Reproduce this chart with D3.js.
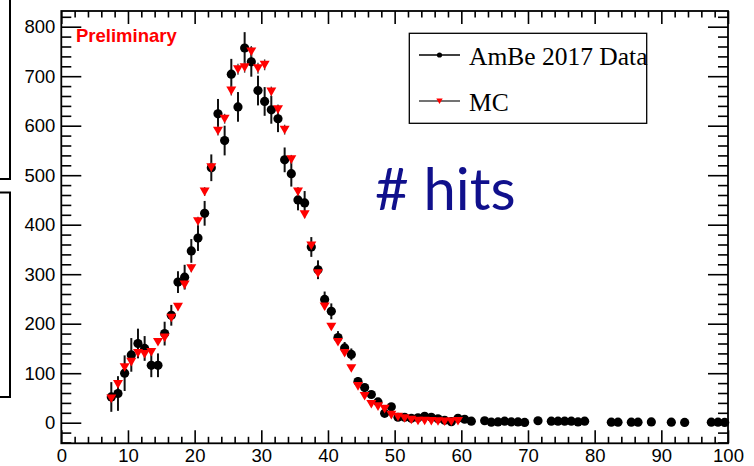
<!DOCTYPE html>
<html>
<head>
<meta charset="utf-8">
<script src="https://cdn.jsdelivr.net/npm/d3@7"></script>
<style>
  html, body { margin: 0; padding: 0; background: #fff; }
  svg { display: block; }
</style>
</head>
<body>
<svg id="chart" width="754" height="466"></svg>
<script>
// Bin centres and contents: AmBe 2017 data
const dataBins = [
  7.5, 8.5, 9.5, 10.5, 11.5, 12.5, 13.5, 14.5, 15.5, 16.5,
  17.5, 18.5, 19.5, 20.5, 21.5, 22.5, 23.5, 24.5, 25.5, 26.5,
  27.5, 28.5, 29.5, 30.5, 31.5, 32.5, 33.5, 34.5, 35.5, 36.5,
  37.5, 38.5, 39.5, 40.5, 41.5, 42.5, 43.5, 44.5, 45.5, 46.5,
  47.5, 48.5, 49.5, 50.5, 51.5, 52.5, 53.5, 54.5, 55.5, 56.5,
  57.5, 58.5, 59.5, 60.5, 61.5,
  63.5, 64.5, 65.5, 66.5, 67.5, 68.5, 69.5, 71.5,
  73.5, 74.5, 75.5, 76.5, 77.5, 78.5, 82.5, 83.5, 85.5, 86.5,
  88.5, 91.5, 93.5, 97.5, 98.5, 99.5
];
const dataValues = [
  52, 59, 100, 137, 160, 150, 116, 116, 180, 217,
  284, 294, 347, 373, 423, 515, 624, 570, 704, 638,
  757, 729, 671, 649, 632, 614, 531, 503, 450, 444,
  355, 309, 249, 225, 172, 151, 138, 83, 71, 57,
  42, 19, 32, 11, 11, 9, 10, 13, 11, 8,
  5, 2, 9, 7, 3,
  4, 1, 1.5, 3, 1.5, 1.5, 0.5, 4,
  3, 3, 3, 3, 1.5, 3, 1, 1, 1, 1,
  1.5, 1, 0.5, 1, 1, 0.5
];
const dataErrors = [
  30, 35, 36, 34, 30, 25, 24, 24, 24, 21,
  22, 25, 24, 26, 25, 27, 30, 30, 31, 30,
  32, 30, 30, 29, 28, 27, 25, 26, 21, 24,
  20, 19, 16, 16, 13, 12, 12, 9, 7, 6,
  5, 4, 5, 3, 3, 3, 3, 3, 3, 3,
  2, 1, 3, 2, 2,
  2, 1, 1, 2, 1, 1, 1, 2,
  2, 2, 2, 2, 1, 2, 1, 1, 1, 1,
  1, 1, 1, 1, 1, 1
];

// Simulation (MC)
const mcBins = [
  7.5, 8.5, 9.5, 10.5, 11.5, 12.5, 13.5, 14.5, 15.5, 16.5,
  17.5, 18.5, 19.5, 20.5, 21.5, 22.5, 23.5, 24.5, 25.5, 26.5,
  27.5, 28.5, 29.5, 30.5, 31.5, 32.5, 33.5, 34.5, 35.5, 36.5,
  37.5, 38.5, 39.5, 40.5, 41.5, 42.5, 43.5, 44.5, 45.5, 46.5,
  47.5, 48.5, 49.5, 50.5, 51.5, 52.5, 53.5, 54.5, 55.5, 56.5,
  57.5, 58.5, 59.5
];
const mcValues = [
  49, 78, 112, 123, 141, 139, 143, 163, 172, 212,
  234, 279, 312, 407, 467, 516, 590, 614, 671, 714,
  718, 750, 716, 723, 669, 633, 592, 532, 467, 421,
  358, 302, 235, 194, 163, 141, 110, 74, 54, 38,
  33, 28, 16, 12, 9, 6, 4, 4, 3.5, 3,
  2.5, 2.5, 3.5
];
const mcErrors = [
  4, 5, 5, 6, 6, 6, 6, 6, 6, 7,
  7, 8, 8, 9, 9, 10, 10, 10, 10, 11,
  11, 11, 11, 11, 10, 10, 10, 9, 9, 8,
  8, 7, 7, 6, 6, 6, 5, 4, 4, 3,
  3, 3, 2, 2, 2, 2, 1, 1, 1, 1,
  1, 1, 1
];

// Axis ticks
const xMajorTicks = [0, 10, 20, 30, 40, 50, 60, 70, 80, 90, 100];
const yMajorTicks = [0, 100, 200, 300, 400, 500, 600, 700, 800];
const xDomain = [0, 100];
const yDomain = [-41.6, 831.7];

const legendLabels = ["AmBe 2017 Data", "MC"];

// ---- layout ----
const frame = { left: 61.3, right: 728, top: 11, bottom: 443.3 };
const svg = d3.select("#chart");

const x = d3.scaleLinear().domain(xDomain).range([frame.left, frame.right]);
const y = d3.scaleLinear().domain(yDomain).range([frame.bottom, frame.top]);

const xMinorTicks = d3.range(xDomain[0], xDomain[1] + 0.001, 2).filter(v => v % 10 !== 0);
const yMinorTicks = d3.range(-40, 831, 20).filter(v => v % 100 !== 0);

// Pieces of the neighbouring panel on the left margin
const sideBoxes = svg.append("g").attr("fill", "none").attr("stroke", "#000").attr("stroke-width", 2);
sideBoxes.append("rect").attr("x", -20).attr("y", -20).attr("width", 30).attr("height", 199);
sideBoxes.append("rect").attr("x", -20).attr("y", 192.5).attr("width", 30).attr("height", 204.5);

const tickFont = "'Liberation Sans', Arial, Helvetica, sans-serif";
const XT = 13, YT = 20; // tick lengths

function styleAxis(g) {
  g.select(".domain").remove();
  g.selectAll(".tick line").attr("stroke", "#000").attr("stroke-width", 1.6);
  g.selectAll("text").attr("fill", "#000").attr("font-family", tickFont).attr("font-size", 18.5);
}

// bottom
svg.append("g").attr("transform", `translate(0,${frame.bottom})`)
  .call(d3.axisBottom(x).tickValues(xMajorTicks).tickSize(-XT).tickPadding(5.5).tickFormat(d3.format("d")))
  .call(styleAxis);
svg.append("g").attr("transform", `translate(0,${frame.bottom})`)
  .call(d3.axisBottom(x).tickValues(xMinorTicks).tickSize(-XT / 2).tickFormat(""))
  .call(styleAxis);
// top
svg.append("g").attr("transform", `translate(0,${frame.top})`)
  .call(d3.axisTop(x).tickValues(xMajorTicks).tickSize(-XT).tickFormat(""))
  .call(styleAxis);
svg.append("g").attr("transform", `translate(0,${frame.top})`)
  .call(d3.axisTop(x).tickValues(xMinorTicks).tickSize(-XT / 2).tickFormat(""))
  .call(styleAxis);
// left
svg.append("g").attr("transform", `translate(${frame.left},0)`)
  .call(d3.axisLeft(y).tickValues(yMajorTicks).tickSize(-YT).tickPadding(6).tickFormat(d3.format("d")))
  .call(styleAxis);
svg.append("g").attr("transform", `translate(${frame.left},0)`)
  .call(d3.axisLeft(y).tickValues(yMinorTicks).tickSize(-YT / 2).tickFormat(""))
  .call(styleAxis);
// right
svg.append("g").attr("transform", `translate(${frame.right},0)`)
  .call(d3.axisRight(y).tickValues(yMajorTicks).tickSize(-YT).tickFormat(""))
  .call(styleAxis);
svg.append("g").attr("transform", `translate(${frame.right},0)`)
  .call(d3.axisRight(y).tickValues(yMinorTicks).tickSize(-YT / 2).tickFormat(""))
  .call(styleAxis);

// frame
svg.append("rect")
  .attr("x", frame.left).attr("y", frame.top)
  .attr("width", frame.right - frame.left).attr("height", frame.bottom - frame.top)
  .attr("fill", "none").attr("stroke", "#000").attr("stroke-width", 1.8);

const dataPts = dataBins.map((b, i) => ({ x: b, v: dataValues[i], e: dataErrors[i] }));
const mcPts = mcBins.map((b, i) => ({ x: b, v: mcValues[i], e: mcErrors[i] }));

const triDown = "M-5,-4L5,-4L0,4.6Z";

// data: error bars then markers
const gData = svg.append("g");
gData.selectAll("line").data(dataPts).join("line")
  .attr("x1", d => x(d.x)).attr("x2", d => x(d.x))
  .attr("y1", d => y(d.v - d.e)).attr("y2", d => y(d.v + d.e))
  .attr("stroke", "#111").attr("stroke-width", 2);
gData.selectAll("circle").data(dataPts).join("circle")
  .attr("cx", d => x(d.x)).attr("cy", d => y(d.v)).attr("r", 4.6)
  .attr("fill", "#000");

// MC: error bars then markers
const gMc = svg.append("g");
gMc.selectAll("line").data(mcPts).join("line")
  .attr("x1", d => x(d.x)).attr("x2", d => x(d.x))
  .attr("y1", d => y(d.v - d.e)).attr("y2", d => y(d.v + d.e))
  .attr("stroke", "#444").attr("stroke-width", 1.4);
gMc.selectAll("path").data(mcPts).join("path")
  .attr("d", triDown)
  .attr("transform", d => `translate(${x(d.x)},${y(d.v)})`)
  .attr("fill", "#ff0000");

// "Preliminary" tag
svg.append("text").attr("x", 76).attr("y", 42)
  .attr("font-family", tickFont).attr("font-weight", "bold").attr("font-size", 18.5)
  .attr("fill", "#ff0000").text("Preliminary");

// Legend
const lg = svg.append("g");
lg.append("rect").attr("x", 409.3).attr("y", 33.3).attr("width", 237.4).attr("height", 90)
  .attr("fill", "#fff").attr("stroke", "#000").attr("stroke-width", 1.3);
const serif = "'Liberation Serif', 'Times New Roman', Times, serif";
// data entry
lg.append("line").attr("x1", 419).attr("x2", 460).attr("y1", 55).attr("y2", 55)
  .attr("stroke", "#000").attr("stroke-width", 1.6);
lg.append("circle").attr("cx", 439.5).attr("cy", 55).attr("r", 2.6).attr("fill", "#000");
lg.append("text").attr("x", 469).attr("y", 64.5).attr("font-family", serif).attr("font-size", 25.5)
  .attr("fill", "#000").text(legendLabels[0]);
// MC entry
lg.append("line").attr("x1", 419).attr("x2", 460).attr("y1", 101).attr("y2", 101)
  .attr("stroke", "#444").attr("stroke-width", 1.6);
lg.append("path").attr("d", "M-3.2,-2.6L3.2,-2.6L0,3Z").attr("transform", "translate(439.5,101)")
  .attr("fill", "#ff0000");
lg.append("text").attr("x", 469).attr("y", 110.5).attr("font-family", serif).attr("font-size", 25.5)
  .attr("fill", "#000").text(legendLabels[1]);

// Observable label
svg.append("text").attr("x", 375).attr("y", 210)
  .attr("font-family", "Lato, 'Open Sans', sans-serif").attr("font-size", 58)
  .attr("fill", "#10108c").text("# hits");
</script>
</body>
</html>
